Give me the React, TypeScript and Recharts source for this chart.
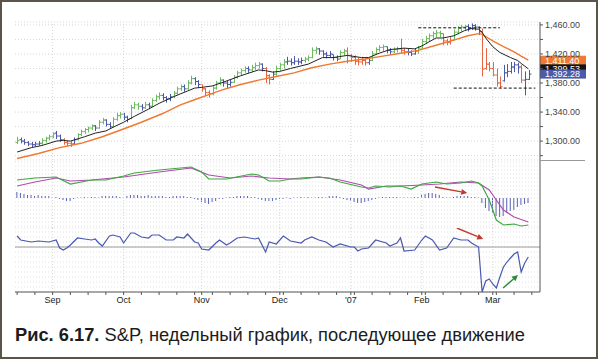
import React from 'react';
import { ComposedChart, Bar, Line, XAxis, YAxis, CartesianGrid, ReferenceLine } from 'recharts';

// daily S&P bars, mid-Aug 2006 .. mid-Mar 2007: [open, high, low, close]
const ohlc: number[][] = [
  [1298, 1306, 1296, 1301], [1302, 1305, 1297, 1300], [1300, 1303, 1295, 1298], [1298, 1300, 1293, 1296],
  [1296, 1299, 1292, 1295], [1295, 1299, 1293, 1296], [1296, 1300, 1294, 1297], [1297, 1304, 1295, 1301],
  [1301, 1306, 1298, 1304], [1304, 1309, 1301, 1306], [1306, 1312, 1304, 1310], [1311, 1314, 1303, 1307],
  [1307, 1309, 1299, 1302], [1302, 1304, 1295, 1298], [1298, 1301, 1293, 1297], [1297, 1300, 1292, 1296],
  [1296, 1305, 1295, 1302], [1302, 1311, 1301, 1309], [1309, 1316, 1307, 1313], [1313, 1318, 1310, 1316],
  [1316, 1320, 1312, 1318], [1318, 1323, 1315, 1321], [1321, 1322, 1314, 1318], [1318, 1329, 1317, 1326],
  [1326, 1332, 1323, 1329], [1329, 1330, 1320, 1323], [1323, 1326, 1317, 1320], [1320, 1333, 1319, 1330],
  [1330, 1339, 1328, 1335], [1335, 1340, 1331, 1337], [1337, 1339, 1329, 1333], [1333, 1335, 1326, 1330],
  [1331, 1350, 1330, 1346], [1346, 1354, 1344, 1350], [1350, 1353, 1343, 1348], [1348, 1351, 1342, 1346],
  [1346, 1354, 1344, 1350], [1350, 1353, 1344, 1348], [1348, 1359, 1347, 1356], [1356, 1364, 1354, 1361],
  [1361, 1367, 1357, 1363], [1363, 1366, 1356, 1360], [1360, 1362, 1353, 1358], [1358, 1365, 1355, 1361],
  [1361, 1369, 1359, 1366], [1366, 1375, 1364, 1372], [1372, 1378, 1369, 1375], [1375, 1378, 1368, 1372],
  [1372, 1384, 1371, 1380], [1380, 1390, 1378, 1386], [1386, 1388, 1377, 1382], [1382, 1384, 1374, 1378],
  [1378, 1378, 1368, 1372], [1372, 1373, 1362, 1367], [1367, 1370, 1360, 1365], [1365, 1376, 1363, 1373],
  [1373, 1383, 1371, 1380], [1380, 1388, 1377, 1384], [1384, 1385, 1375, 1380], [1380, 1383, 1373, 1378],
  [1378, 1385, 1375, 1381], [1381, 1391, 1380, 1388], [1388, 1397, 1386, 1394], [1394, 1400, 1391, 1397],
  [1397, 1403, 1394, 1400], [1400, 1403, 1394, 1398], [1398, 1405, 1395, 1401], [1401, 1408, 1398, 1404],
  [1404, 1409, 1400, 1406], [1406, 1407, 1396, 1400], [1400, 1402, 1380, 1390], [1390, 1392, 1378, 1385],
  [1385, 1396, 1384, 1392], [1392, 1404, 1390, 1400], [1400, 1408, 1397, 1405], [1405, 1413, 1400, 1409],
  [1409, 1416, 1405, 1410], [1410, 1414, 1404, 1408], [1408, 1417, 1405, 1410], [1410, 1414, 1405, 1409],
  [1409, 1415, 1406, 1411], [1411, 1416, 1408, 1413], [1413, 1418, 1410, 1415], [1415, 1429, 1414, 1425],
  [1425, 1430, 1420, 1427], [1427, 1428, 1419, 1424], [1424, 1425, 1416, 1420], [1420, 1423, 1414, 1418],
  [1418, 1424, 1415, 1420], [1419, 1419, 1411, 1415], [1415, 1418, 1410, 1413], [1413, 1425, 1413, 1422],
  [1422, 1427, 1418, 1424], [1424, 1429, 1407, 1418], [1418, 1420, 1409, 1415], [1415, 1418, 1405, 1410],
  [1410, 1415, 1404, 1409], [1409, 1416, 1405, 1411], [1411, 1413, 1404, 1408], [1408, 1415, 1405, 1411],
  [1411, 1424, 1410, 1420], [1420, 1429, 1420, 1426], [1426, 1432, 1423, 1429], [1429, 1433, 1424, 1430],
  [1430, 1430, 1421, 1425], [1425, 1428, 1419, 1423], [1423, 1429, 1421, 1426], [1426, 1430, 1422, 1427],
  [1427, 1441, 1421, 1425], [1425, 1428, 1419, 1423], [1423, 1427, 1418, 1422], [1422, 1425, 1417, 1420],
  [1420, 1428, 1419, 1424], [1424, 1431, 1420, 1428], [1428, 1441, 1427, 1437], [1437, 1445, 1434, 1441],
  [1441, 1448, 1437, 1445], [1445, 1451, 1441, 1448], [1448, 1453, 1443, 1449], [1449, 1452, 1443, 1448],
  [1448, 1448, 1432, 1438], [1438, 1441, 1432, 1436], [1436, 1443, 1433, 1439], [1439, 1454, 1439, 1450],
  [1450, 1458, 1447, 1455], [1455, 1460, 1451, 1457], [1457, 1460, 1452, 1458], [1458, 1461, 1451, 1455],
  [1455, 1462, 1453, 1459], [1459, 1461, 1452, 1457], [1457, 1458, 1446, 1451], [1450, 1455, 1389, 1399],
  [1400, 1428, 1398, 1406], [1406, 1409, 1396, 1400], [1400, 1409, 1389, 1391], [1391, 1400, 1375, 1380],
  [1380, 1389, 1373, 1375], [1383, 1405, 1382, 1394], [1394, 1406, 1388, 1396], [1396, 1409, 1393, 1402],
  [1402, 1409, 1395, 1405], [1405, 1408, 1393, 1402], [1402, 1405, 1380, 1384], [1384, 1396, 1363, 1385],
  [1385, 1398, 1384, 1392.28],
];
// impulse colour of each bar: g = green, b = blue, r = red
const impulse =
  'gbbbbbbggg' + 'gbbrrrbggg' + 'ggbggbbggg' + 'bbgggbgbgg' + 'gbbbgggbgg' +
  'bbrrrgggbb' + 'bggggbgggb' + 'rrbgggbbbb' + 'bggggbbbbb' + 'bggrrrrrrb' +
  'ggggbbggrr' + 'bbbggggggg' + 'rrrggggbbb' + 'brrrrrrbbb' + 'bbrbb';

// [bar index, value]
const ema13: number[][] = [
  [0, 1285], [4, 1291], [7, 1294], [11, 1300], [13, 1301], [15, 1300], [19, 1306], [22, 1311], [25, 1314],
  [27, 1319], [30, 1326], [33, 1334], [37, 1344], [40, 1352], [44, 1361], [48, 1369], [50, 1373], [52, 1374],
  [55, 1376], [58, 1381], [63, 1390], [68, 1398], [70, 1397], [72, 1395], [74, 1396], [77, 1400], [82, 1406],
  [86, 1415], [89, 1415], [93, 1418], [97, 1415], [99, 1415], [102, 1421], [105, 1426], [109, 1428], [112, 1427],
  [114, 1431], [118, 1442], [120, 1442], [123, 1445], [126, 1452], [128, 1455], [130, 1454], [131, 1450],
  [132, 1442], [134, 1430], [136, 1422], [139, 1415], [141, 1411], [142, 1407], [144, 1399.53],
];
const ema26: number[][] = [
  [0, 1276], [6, 1283], [12, 1291], [18, 1297], [24, 1306], [29, 1315], [35, 1326], [41, 1338], [46, 1350],
  [50, 1357], [54, 1364], [58, 1371], [63, 1378], [68, 1384], [73, 1389], [78, 1394], [83, 1401], [88, 1406],
  [93, 1410], [98, 1413], [103, 1417], [108, 1421], [113, 1425], [118, 1432], [123, 1439], [127, 1445],
  [130, 1448], [131, 1447], [132, 1444], [134, 1438], [137, 1430], [140, 1423], [142, 1417], [144, 1411.4],
];
const macdLine: number[][] = [
  [0, 18], [5, 20], [11, 21], [15, 14], [21, 18], [25, 18], [30, 22], [33, 25], [40, 28], [49, 31], [52, 26],
  [54, 19], [59, 19], [66, 24], [68, 23], [71, 17], [74, 17], [77, 19], [80, 19], [85, 21], [88, 20], [91, 16],
  [97, 11], [99, 10], [101, 12], [105, 11], [108, 12], [111, 9], [114, 14], [118, 16], [121, 14], [125, 15],
  [128, 17], [130, 15], [131, 12], [132, 5], [133, -2], [134, -12], [135, -22], [137, -27], [140, -26],
  [142, -28], [144, -27],
];
const signalLine: number[][] = [
  [0, 12], [5, 16], [11, 20], [15, 17], [21, 18], [30, 21], [40, 26], [49, 30], [54, 23], [60, 20], [66, 22],
  [71, 20], [77, 19], [80, 20], [85, 21], [91, 18], [97, 13], [99, 9], [104, 12], [108, 12], [114, 13],
  [119, 14], [125, 16], [130, 15], [133, 8], [135, -2], [137, -12], [140, -19], [144, -24],
];
// one histogram value per bar
const macdHist: number[] = [
  6, 5, 4, 3, 3, 2, 3, 2, 2, 2,
  1, 1, -1, -2, -3, -3, -1, 0.5, 0.5, 1,
  0.5, 1, 1, 0.5, 2, 2, 2, 2, 2, 1,
  1, 2, 3, 3, 3, 2, 2, 3, 2, 2,
  2, 2, 1, 1, 2, 2, 2, 2, 1, 1,
  -1, -2, -4, -5, -6, -4, -3, -1, -1, 0.5,
  1, 1, 2, 2, 2, 2, 1, 1, -1, -2,
  -3, -3, -3, -2, -1, -1, 0.5, -1, 0.5, 0.5,
  1, 0.5, 1, 0.5, 0.5, 1, 1, 0.5, 2, 2,
  2, 1, -1, -2, -3, -4, -5, -5, -4, -3,
  -2, -1, 0.5, 1, 1, 1, 1, 1, 0.5, 0.5,
  0.5, 0.5, 1, 1, 3, 4, 5, 5, 4, 3,
  1, 0.5, 0.5, 1, 2, 2, 2, 2, 1, 1,
  0.5, -5, -10, -13, -15, -18, -19, -18, -15, -13,
  -12, -9, -7, -6, -5,
];
const force: number[][] = [
  [0, 11], [1, 7], [4, 5], [6, 6], [9, 5], [11, 7], [12, -1], [13, -3], [14, -1], [15, 2], [17, 9], [19, 8],
  [21, 7], [22, 8], [23, 4], [24, 1], [26, 11], [27, 12], [29, 10], [30, 4], [32, 14], [33, 14], [35, 10],
  [37, 9], [38, 12], [40, 12], [42, 7], [44, 7], [45, 10], [47, 9], [48, 13], [50, 5], [51, 4], [52, -2],
  [54, -3], [56, 4], [57, 7], [59, 2], [60, 4], [62, 9], [64, 10], [67, 8], [68, 9], [70, -5], [71, 5],
  [73, 3], [75, 11], [77, 6], [80, 4], [81, 7], [83, 10], [85, 7], [87, 5], [89, 0], [91, 3], [94, 0],
  [95, 0], [96, -4], [97, -2], [99, -1], [101, 7], [104, 4], [105, 1], [107, 4], [108, 9], [109, -4],
  [112, -3], [114, 7], [115, 11], [117, 7], [119, -3], [121, -1], [123, 9], [125, 7], [127, 7], [128, 4],
  [130, 0], [131, -45], [132, -34], [133, -32], [134, -37], [135, -41], [136, -30], [137, -20], [138, -15],
  [139, -11], [140, -7], [141, -5], [142, -25], [143, -16], [144, -10],
];

const monthTicks = [10, 30, 52, 74, 94, 114, 134];
const monthLabels = ['Sep', 'Oct', 'Nov', 'Dec', "'07", 'Feb', 'Mar'];
const weekTicks = [0, 5, 15, 20, 25, 35, 40, 45, 50, 55, 60, 65, 70, 75, 80, 85, 90, 95, 100, 105, 110, 115, 120, 125, 130, 135, 140, 145];
const priceTicks = [1280, 1300, 1320, 1340, 1360, 1380, 1400, 1420, 1440, 1460];
const priceLabelled = [1300, 1340, 1380, 1420, 1460];
const macdGrid = [-28, -24, -20, -16, -12, -8, -4, 0, 4, 8, 12, 16, 20, 24, 28, 32, 36];
const forceGrid = [-40, -35, -30, -25, -20, -15, -10, -5, 0, 5, 10, 15];
const tags = [
  { value: 1411.4, color: '#f07a35' },
  { value: 1399.53, color: '#141414' },
  { value: 1392.28, color: '#4d5aa8' },
];

const X_DOMAIN = [-0.6, 147.3];
const barColors: Record<string, string> = { g: '#6cbc5e', b: '#4c58a8', r: '#e8643e' };
const gridStroke = '#d6d6d6';
const subGridStroke = '#e2e2e2';

const toPts = (arr: number[][]) => arr.map(([i, v]) => ({ i, v }));
const priceRows = ohlc.map((r, i) => ({ i, range: [r[2], r[1]], o: r[0], h: r[1], l: r[2], c: r[3], col: impulse[i] }));
const histRows = macdHist.map((v, i) => ({ i, v }));
const fmtPrice = (v: number) =>
  priceLabelled.includes(v) ? v.toLocaleString('en-US', { minimumFractionDigits: 2, maximumFractionDigits: 2 }) : '';

const OhlcBar = (props: any) => {
  const { x, y, width, height, payload } = props;
  const top = Math.min(y, y + height);
  const bot = Math.max(y, y + height);
  const span = payload.h - payload.l;
  const cx = Math.round(x + width / 2) + 0.5;
  const yo = top + ((payload.h - payload.o) / span) * (bot - top);
  const yc = top + ((payload.h - payload.c) / span) * (bot - top);
  return (
    <g stroke={barColors[payload.col]} strokeWidth={1}>
      <line x1={cx} x2={cx} y1={top} y2={bot} />
      <line x1={cx - 2} x2={cx} y1={yo} y2={yo} />
      <line x1={cx} x2={cx + 2} y1={yc} y2={yc} />
    </g>
  );
};

const PriceTag = (props: any) => {
  const { viewBox, tagText, tagColor } = props;
  if (!viewBox) return null;
  const x = viewBox.x + viewBox.width;
  const y = viewBox.y;
  return (
    <g>
      <rect x={x} y={y - 4.5} width={46} height={9} fill={tagColor} />
      <text x={x + 5} y={y + 3.3} fill="#fff" fontSize={9}>{tagText}</text>
    </g>
  );
};

const Arrow = (props: any) => {
  const { x1, y1, x2, y2, color } = props;
  const a = Math.atan2(y2 - y1, x2 - x1);
  const len = 6;
  const w = 3;
  const bx = x2 - len * Math.cos(a);
  const by = y2 - len * Math.sin(a);
  const pts = `${x2},${y2} ${bx - w * Math.sin(a)},${by + w * Math.cos(a)} ${bx + w * Math.sin(a)},${by - w * Math.cos(a)}`;
  return (
    <g>
      <line x1={x1} y1={y1} x2={bx} y2={by} stroke={color} strokeWidth={1.4} />
      <polygon points={pts} fill={color} />
    </g>
  );
};

const monthGrid = (prefix: string) =>
  monthTicks.map((m) => (
    <ReferenceLine key={prefix + m} x={m} stroke={gridStroke} strokeDasharray="1 2" />
  ));

export default function App() {
  const margin = { top: 0, right: 15, bottom: 0, left: 15 };
  const xTicks = Array.from(new Set([...weekTicks, ...monthTicks])).sort((a, b) => a - b);
  return (
    <div style={{ position: 'absolute', left: 0, top: 0, width: 600, height: 361, background: '#fff', fontFamily: '"Liberation Sans", Arial, sans-serif' }}>
      <div style={{ position: 'absolute', left: 0, top: 0 }}>
        <ComposedChart width={600} height={160} data={priceRows} margin={{ ...margin, top: 22 }}>
          <CartesianGrid vertical={false} stroke={gridStroke} strokeDasharray="1 2" />
          {monthGrid('p')}
          <XAxis dataKey="i" type="number" domain={X_DOMAIN} hide />
          <YAxis
            orientation="right"
            width={45}
            domain={[1274, 1464]}
            ticks={priceTicks}
            interval={0}
            allowDataOverflow
            tickFormatter={fmtPrice}
            tick={{ fontSize: 9, fill: '#444' }}
            tickSize={3}
            tickMargin={2}
            axisLine={{ stroke: '#555' }}
            tickLine={{ stroke: '#555' }}
          />
          <Bar dataKey="range" barSize={2} shape={<OhlcBar />} isAnimationActive={false} />
          <Line data={toPts(ema26)} dataKey="v" stroke="#f07830" strokeWidth={1.4} dot={false} activeDot={false} isAnimationActive={false} />
          <Line data={toPts(ema13)} dataKey="v" stroke="#222" strokeWidth={1} dot={false} activeDot={false} isAnimationActive={false} />
          <ReferenceLine segment={[{ x: 113, y: 1456 }, { x: 136, y: 1456 }]} stroke="#111" strokeDasharray="3 2" ifOverflow="visible" />
          <ReferenceLine segment={[{ x: 123, y: 1373 }, { x: 146, y: 1373 }]} stroke="#111" strokeDasharray="3 2" ifOverflow="visible" />
          {tags.map((t) => (
            <ReferenceLine
              key={t.value}
              y={t.value}
              stroke="none"
              ifOverflow="visible"
              label={<PriceTag tagText={t.value.toLocaleString('en-US', { minimumFractionDigits: 2 })} tagColor={t.color} />}
            />
          ))}
        </ComposedChart>
      </div>

      <div style={{ position: 'absolute', left: 0, top: 160 }}>
        <ComposedChart width={600} height={68} data={histRows} margin={margin}>
          <CartesianGrid vertical={false} stroke={subGridStroke} strokeDasharray="1 2" />
          {monthGrid('m')}
          <XAxis dataKey="i" type="number" domain={X_DOMAIN} hide />
          <YAxis orientation="right" width={45} domain={[-30, 38]} ticks={macdGrid} interval={0} allowDataOverflow tickFormatter={() => ''} tickLine={false} axisLine={{ stroke: '#555' }} />
          <Bar dataKey="v" barSize={1} fill="#5a63b5" isAnimationActive={false} />
          <Line data={toPts(signalLine)} dataKey="v" stroke="#b04cb0" strokeWidth={1.2} dot={false} activeDot={false} isAnimationActive={false} />
          <Line data={toPts(macdLine)} dataKey="v" stroke="#3fa843" strokeWidth={1.2} dot={false} activeDot={false} isAnimationActive={false} />
          <ReferenceLine
            segment={[{ x: 117.7, y: 11 }, { x: 126.8, y: 5 }]}
            ifOverflow="visible"
            shape={(p: any) => <Arrow {...p} color="#c0392b" />}
          />
        </ComposedChart>
      </div>

      <div style={{ position: 'absolute', left: 0, top: 228 }}>
        <ComposedChart width={600} height={84} data={toPts(force)} margin={margin}>
          <CartesianGrid vertical={false} stroke={subGridStroke} strokeDasharray="1 2" />
          {monthGrid('f')}
          <XAxis
            dataKey="i"
            type="number"
            domain={X_DOMAIN}
            ticks={xTicks}
            interval={0}
            height={20}
            tickSize={3}
            tickMargin={2}
            tickFormatter={(v: number) => {
              const k = monthTicks.indexOf(v);
              return k >= 0 ? monthLabels[k] : '';
            }}
            tick={{ fontSize: 9, fill: '#222' }}
            axisLine={{ stroke: '#555' }}
            tickLine={{ stroke: '#555' }}
          />
          <YAxis orientation="right" width={45} domain={[-45, 19]} ticks={forceGrid} interval={0} allowDataOverflow tickFormatter={() => ''} tickLine={false} axisLine={{ stroke: '#555' }} />
          <ReferenceLine y={0} stroke="#9a9a9a" />
          <Line dataKey="v" stroke="#4a58b0" strokeWidth={1.2} dot={false} activeDot={false} isAnimationActive={false} />
          <ReferenceLine
            segment={[{ x: 123.9, y: 19 }, { x: 131.3, y: 8 }]}
            ifOverflow="visible"
            shape={(p: any) => <Arrow {...p} color="#c0392b" />}
          />
          <ReferenceLine
            segment={[{ x: 136.9, y: -41 }, { x: 141.1, y: -28 }]}
            ifOverflow="visible"
            shape={(p: any) => <Arrow {...p} color="#2a8a3a" />}
          />
        </ComposedChart>
      </div>

      <div style={{ position: 'absolute', left: 540, top: 160, width: 45, height: 1, background: '#999' }} />

      <div style={{ position: 'absolute', left: 15, top: 326, fontSize: 18.3, lineHeight: '18px', color: '#1c1c1c', whiteSpace: 'nowrap' }}>
        <span style={{ fontWeight: 700 }}>Рис. 6.17.</span> S&amp;P, недельный график, последующее движение
      </div>

      <div style={{ position: 'absolute', left: 0, top: 0, width: 598, height: 359, border: '2px solid #5a5548', boxSizing: 'border-box' }} />
    </div>
  );
}
